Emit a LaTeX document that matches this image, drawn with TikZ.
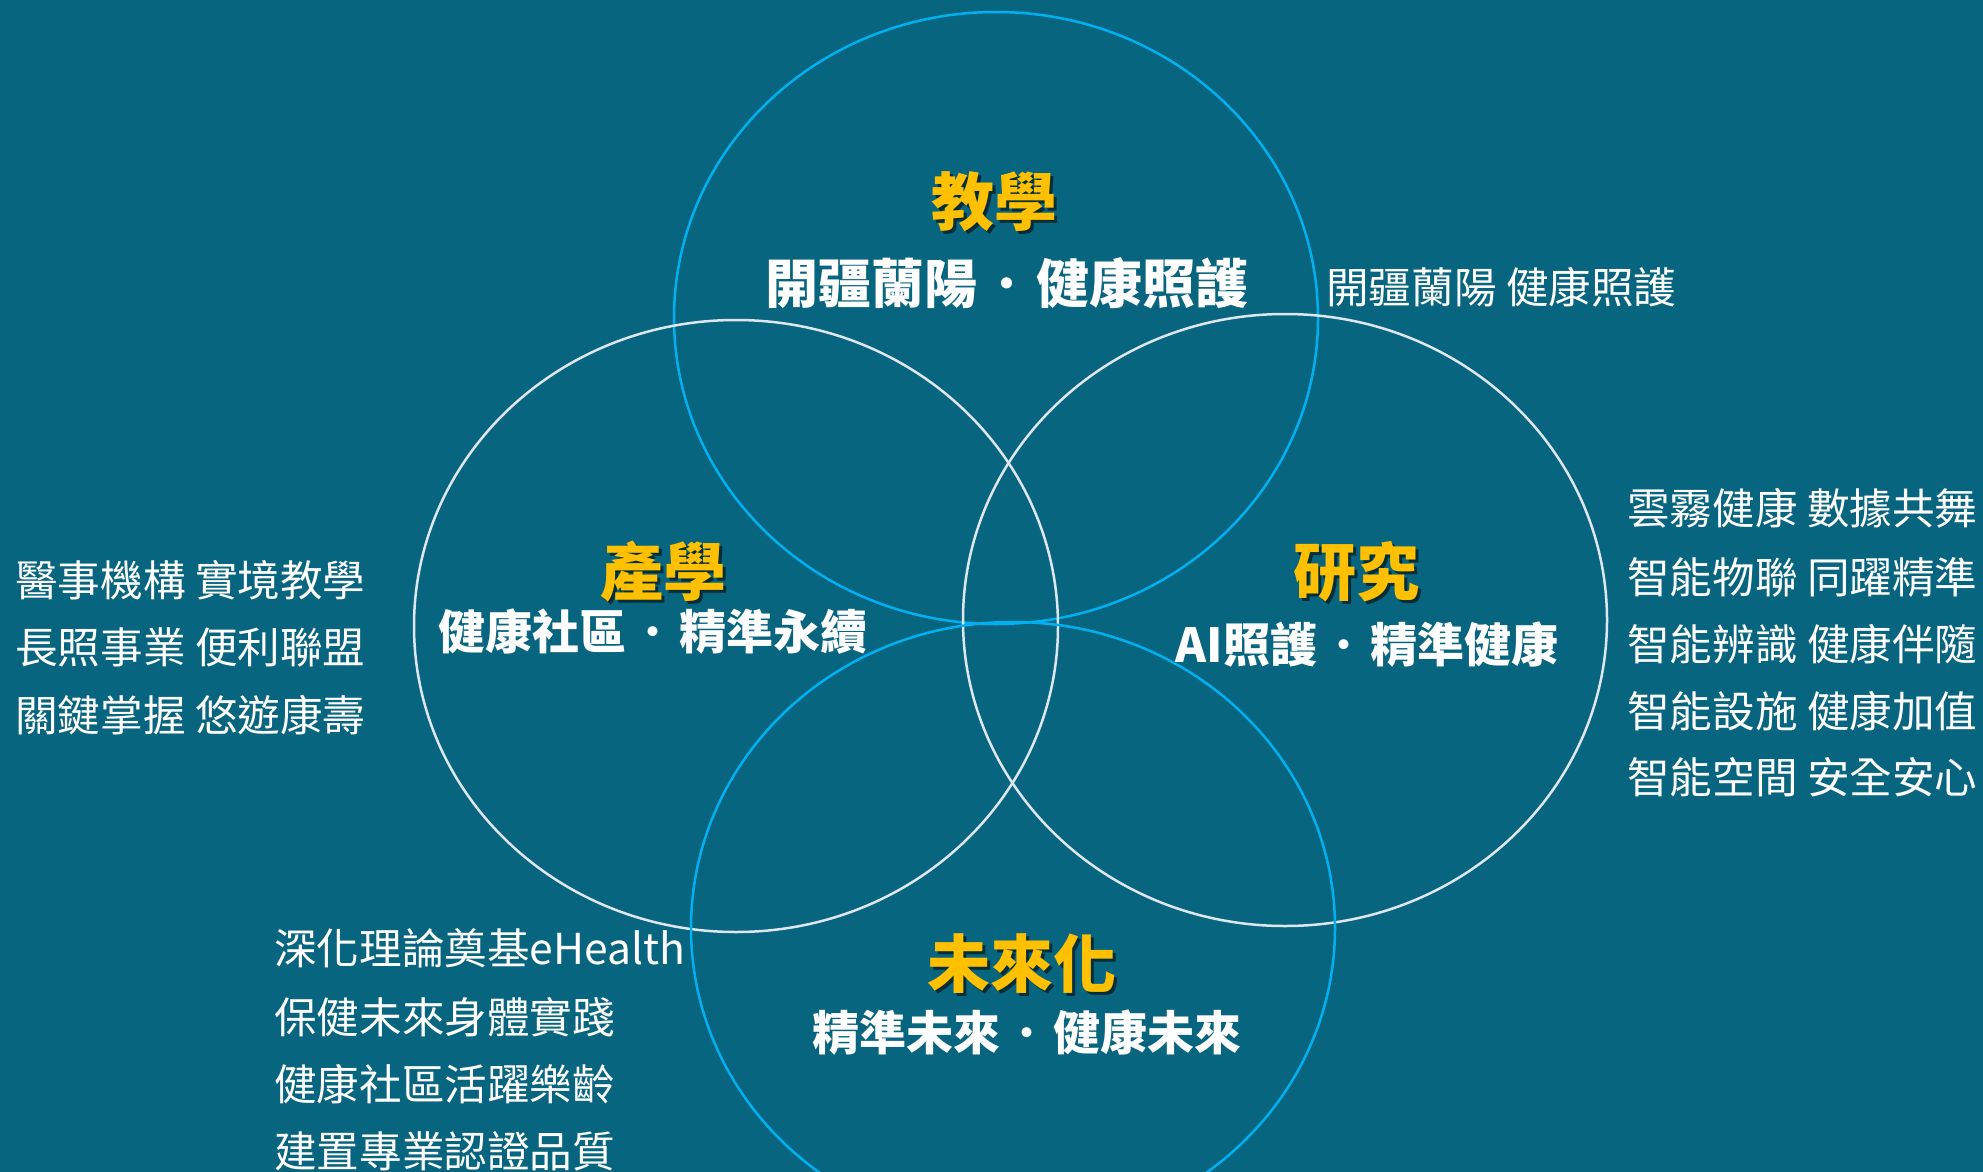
\documentclass[tikz,border=0pt]{standalone}
\usepackage{fontspec}
\usepackage{tikz}
\usetikzlibrary{shapes.geometric}
\newfontfamily\cjk{Noto Sans CJK TC}
\newcommand\vdot{\hspace{0.06em}{\mdseries ·}\hspace{0.06em}}
\definecolor{VennBack}{RGB}{8,101,127}
\definecolor{VennBlue}{RGB}{0,176,240}
\definecolor{VennWhite}{RGB}{222,230,242}
\definecolor{VennGold}{RGB}{255,192,0}

\begin{document}
\begin{tikzpicture}[x=1pt,y=-1pt,
    ring/.style={ellipse,draw=#1,line width=2.5pt,minimum width=644pt,minimum height=612pt,inner sep=0pt},
    ttl/.style={text=VennGold,font=\cjk\bfseries\fontsize{63}{70}\selectfont,inner sep=0pt},
    shd/.style={text=black,text opacity=0.55,font=\cjk\bfseries\fontsize{63}{70}\selectfont,inner sep=0pt},
    sub/.style={text=white,font=\cjk\bfseries\fontsize{#1}{#1}\selectfont,inner sep=0pt},
    lst/.style={text=white,font=\cjk\fontsize{42.6}{48}\selectfont,anchor=west,inner sep=0pt}]
    \fill[VennBack] (0,0) rectangle (1983,1172);
    \useasboundingbox (0,0) rectangle (1983,1172);
    % four rings
    \node[ring=VennBlue](c0) at(996,318) {};
    \node[ring=VennWhite](c1) at(736,626) {};
    \node[ring=VennWhite](c2) at(1285,620) {};
    \node[ring=VennBlue](c3) at(1013,928) {};
    \foreach \x/\y/\1/\n in %
    {994/202/教學/t0,663/572/產學/t1,1356/572/研究/t2,1022/964/未來化/t3} {
       \node[shd] (s\n) at (\x+3,\y+3) {\1};
       \node[ttl] (\n) at (\x,\y) {\1};
    }
       \node[sub=53](u0) at(1007,283) {開疆蘭陽\vdot 健康照護};
       \node[sub=47](u1) at(653,632) {健康社區\vdot 精準永續};
       \node[sub=47](u2) at(1367,645) {AI照護\vdot 精準健康};
       \node[sub=47](u3) at(1027,1033) {精準未來\vdot 健康未來};
    % side lists
       \node[lst](a0) at(1326,287) {開疆蘭陽 健康照護};
    \foreach \y/\1 [count=\i] in %
    {508/雲霧健康 數據共舞,577/智能物聯 同躍精準,644/智能辨識 健康伴隨,711/智能設施 健康加值,777/智能空間 安全安心} {
       \node[lst] (r\i) at (1627,\y) {\1};
    }
    \foreach \y/\1 [count=\i] in %
    {580/醫事機構 實境教學,647/長照事業 便利聯盟,715/關鍵掌握 悠遊康壽} {
       \node[lst] (l\i) at (15,\y) {\1};
    }
    \foreach \y/\1 [count=\i] in %
    {948/深化理論奠基eHealth,1017/保健未來身體實踐,1084/健康社區活躍樂齡,1151/建置專業認證品質} {
       \node[lst] (b\i) at (274,\y) {\1};
    }
\end{tikzpicture}
\end{document}
